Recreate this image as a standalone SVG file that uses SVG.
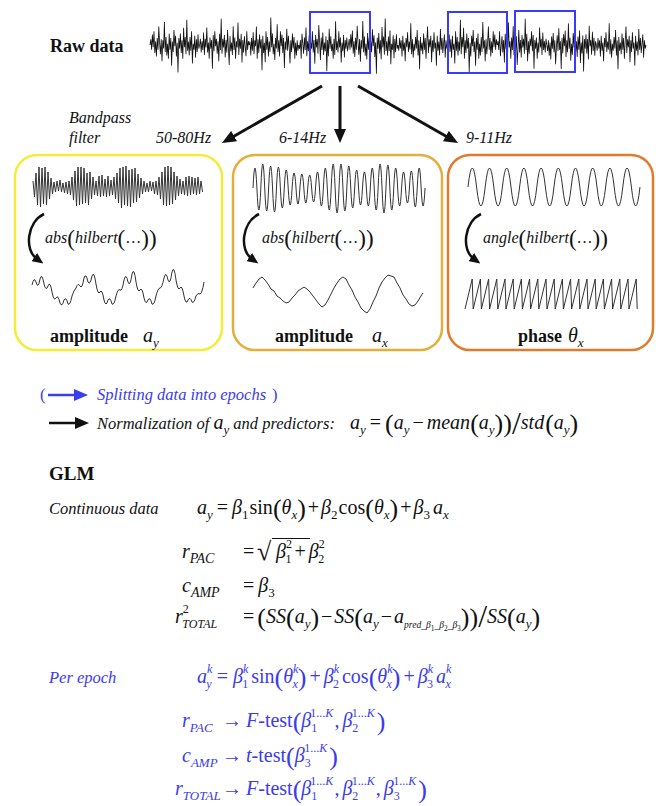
<svg xmlns="http://www.w3.org/2000/svg" xmlns:xlink="http://www.w3.org/1999/xlink" width="656" height="806" viewBox="0 0 656 806">
<style>
.t{font-family:"Liberation Serif","DejaVu Serif Condensed","DejaVu Serif",serif;font-stretch:condensed;fill:#111}
.b{font-weight:bold}
.i{font-style:italic}
.m{font-family:"Liberation Serif","DejaVu Serif Condensed","DejaVu Serif",serif;font-stretch:condensed;font-size:20px;fill:#111}
.f{font-size:16px}
.blue{fill:#3b3bef}
.s{font-size:13px;font-style:italic}
.s14{font-size:14px;font-style:italic}
.k{font-size:12px;font-style:italic}
.n{font-size:13px;font-style:normal}
.nk{font-size:12px;font-style:normal}
.ss{font-size:9.5px;font-style:italic}
.sd{font-size:7.5px;font-style:normal}
.P{font-size:26px;font-style:normal}
.Pf{font-size:23px;font-style:normal}
.rad{font-size:26px}
.sl{font-size:32px}
.sig{fill:none;stroke:#333;stroke-width:1;stroke-linejoin:round}
.raw{fill:none;stroke:#111;stroke-width:1}
.box{fill:none;stroke-width:2.5}
.arr{fill:none;stroke:#111;stroke-width:3}
.carr{fill:none;stroke:#111;stroke-width:2.5}
</style>
<defs>
<marker id="ah" viewBox="0 0 10 10" refX="2" refY="5" markerWidth="14" markerHeight="12" markerUnits="userSpaceOnUse" orient="auto" preserveAspectRatio="none"><path d="M0,0L10,5L0,10z" fill="#111"/></marker>
<marker id="ahs" viewBox="0 0 10 10" refX="3" refY="5" markerWidth="11" markerHeight="10" markerUnits="userSpaceOnUse" orient="auto" preserveAspectRatio="none"><path d="M0,0L10,5L0,10z" fill="#111"/></marker>
<marker id="ahb" viewBox="0 0 10 10" refX="2" refY="5" markerWidth="14" markerHeight="12" markerUnits="userSpaceOnUse" orient="auto" preserveAspectRatio="none"><path d="M0,0L10,5L0,10z" fill="#3b3bef"/></marker>
<path id="segA" d="M0 0 1 -5 2 4 3 -9 4 2 5 -12 6 7 7 -3 8 10 9 -6 10 4 11 -16 12 -2 13 8 14 -5 15 14 16 -4 17 3 18 -20 19 6 20 -7 21 9 22 -1 23 12 24 -10 25 4 26 -6 27 18 28 -3 29 6 30 -13 31 1 32 -8 33 10 34 -2 35 24 36 -6 37 3 38 -10 39 7 40 -4 41 12 42 -15 43 2 44 -7 45 8 46 -22 47 5 48 -3 49 9 50 -7 51 5 52 -12 53 16 54 -1 55 4 56 -8 57 11 58 -5 59 6 60 -9 61 3 62 0"/>
<path id="segB" d="M0 0 1 5 2 -6 3 3 4 -4 5 10 6 -8 7 5 8 -2 9 14 10 -6 11 2 12 -11 13 6 14 -3 15 4 16 -19 17 8 18 -5 19 11 20 -1 21 5 22 -7 23 3 24 -13 25 9 26 -4 27 21 28 -7 29 5 30 -2 31 8 32 -10 33 4 34 -6 35 12 36 -3 37 -16 38 7 39 -5 40 2 41 -8 42 15 43 -4 44 6 45 -11 46 3 47 -2 48 18 49 -8 50 5 51 -3 52 9 53 -14 54 4 55 -6 56 7 57 -1 58 -9 59 11 60 -4 61 3 62 0"/>
</defs>
<rect width="656" height="806" fill="#fff"/>

<g id="raw-data">
<text class="t b" x="50" y="52" font-size="18">Raw data</text>
<g class="raw">
<use xlink:href="#segA" href="#segA" transform="translate(150,45) scale(0.8,1.15)"/>
<use xlink:href="#segB" href="#segB" transform="translate(199.6,45) scale(0.8,-1.25)"/>
<use xlink:href="#segA" href="#segA" transform="translate(298.8,45) scale(-0.8,-1.15)"/>
<use xlink:href="#segB" href="#segB" transform="translate(348.4,45) scale(-0.8,1.25)"/>
<use xlink:href="#segA" href="#segA" transform="translate(348.4,45) scale(0.8,1.2)"/>
<use xlink:href="#segB" href="#segB" transform="translate(398,45) scale(0.8,1.15)"/>
<use xlink:href="#segA" href="#segA" transform="translate(497.2,45) scale(-0.8,1.15)"/>
<use xlink:href="#segB" href="#segB" transform="translate(546.8,45) scale(-0.8,-1.25)"/>
<use xlink:href="#segA" href="#segA" transform="translate(546.8,45) scale(0.8,-1.2)"/>
<use xlink:href="#segB" href="#segB" transform="translate(596.4,45) scale(0.8,1.15)"/>
</g>
<g fill="none" stroke="#3a3aff" stroke-width="2">
<rect x="310" y="12" width="60" height="61"/>
<rect x="448" y="12" width="59" height="61"/>
<rect x="515" y="11" width="60" height="61"/>
</g>
</g>

<g id="bandpass-labels">
<text class="t i" x="69" y="123" font-size="16">Bandpass</text>
<text class="t i" x="69" y="143" font-size="16">filter</text>
<text class="t i" x="156" y="143" font-size="16">50-80Hz</text>
<text class="t i" x="279" y="143" font-size="16">6-14Hz</text>
<text class="t i" x="466" y="143" font-size="16">9-11Hz</text>
</g>

<g id="panel-gamma">
<rect class="box" x="15" y="155" width="207" height="195" rx="22" stroke="#f3ec3a"/>
<polyline class="sig" points="33,181 34.5,197 36,173 37.5,205 39,167 40.5,207 42,168 43.5,204 45,167 46.5,205 48,172 49.5,199 51,178 52.5,194 54,182 55.5,192 57,181 58.5,191 60,180 61.5,192 63,183 64.5,193 66,182 67.5,194 69,181 70.5,195 72,177 73.5,200 75,171 76.5,206 78,167 79.5,205 81,167 82.5,204 84,168 85.5,203 87,173 88.5,205 90,172 91.5,199 93,177 94.5,195 96,181 97.5,196 99,176 100.5,197 102,175 103.5,196 105,179 106.5,197 108,176 109.5,196 111,180 112.5,195 114,177 115.5,199 117,173 118.5,203 120,168 121.5,208 123,167 124.5,205 126,166 127.5,206 129,170 130.5,207 132,169 133.5,203 135,168 136.5,202 138,174 139.5,198 141,178 142.5,194 144,181 145.5,192 147,183 148.5,192 150,181 151.5,191 153,182 154.5,194 156,181 157.5,195 159,177 160.5,199 162,172 163.5,205 165,167 166.5,206 168,166 169.5,205 171,167 172.5,204 174,172 175.5,200 177,176 178.5,196 180,179 181.5,194 183,181 184.5,195 186,177 187.5,196 189,176 190.5,195 192,177 193.5,194 195,178 196.5,195 198,177 199.5,194 201,181 202.5,192"/>
<text class="m f" x="45" y="243"><tspan class="i">abs</tspan><tspan class="Pf" dy="3">(</tspan><tspan class="i" dy="-3">hilbert</tspan><tspan class="Pf" dy="3">(</tspan><tspan dy="-3">…</tspan><tspan class="Pf" dy="3">))</tspan></text>
<path class="sig" d="M32,285 Q34,276 36,282 Q38,290 40,279 Q42,272 44,284 Q46,292 48,286 Q50,280 52,292 Q54,302 56,298 Q58,294 60,303 Q62,308 64,300 Q66,296 68,304 Q70,306 72,296 Q74,290 76,288 Q78,282 80,286 Q82,290 84,278 Q86,272 88,282 Q90,286 92,276 Q94,270 96,284 Q98,296 100,292 Q102,288 104,300 Q106,308 108,300 Q110,296 112,304 Q114,306 116,296 Q118,288 120,290 Q122,292 124,280 Q126,272 128,282 Q130,288 132,274 Q134,266 136,282 Q138,294 140,290 Q142,286 144,298 Q146,306 148,300 Q150,296 152,304 Q154,306 156,296 Q158,288 160,288 Q162,288 164,278 Q166,270 168,280 Q170,286 172,272 Q174,264 176,280 Q178,292 180,288 Q182,284 184,296 Q186,306 188,300 Q190,296 192,302 Q194,304 196,296 Q198,292 200,294 Q202,294 204,282"/>
<text class="t b" x="50" y="342" font-size="18">amplitude</text>
<text class="m" x="143" y="342"><tspan class="i">a</tspan><tspan class="s" dy="5">y</tspan></text>
</g>

<g id="panel-amplitude">
<rect class="box" x="233" y="155" width="209" height="195" rx="22" stroke="#e5ae3c"/>
<path class="sig" d="M253,188 q1.95,-40 3.91,0 q1.95,44 3.91,0 q1.95,-48 3.91,0 q1.95,46 3.91,0 q1.95,-44 3.91,0 q1.95,48 3.91,0 q1.95,-42 3.91,0 q1.95,40 3.91,0 q1.95,-36 3.91,0 q1.95,34 3.91,0 q1.95,-30 3.91,0 q1.95,32 3.91,0 q1.95,-28 3.91,0 q1.95,30 3.91,0 q1.95,-26 3.91,0 q1.95,28 3.91,0 q1.95,-32 3.91,0 q1.95,36 3.91,0 q1.95,-40 3.91,0 q1.95,44 3.91,0 q1.95,-48 3.91,0 q1.95,50 3.91,0 q1.95,-48 3.91,0 q1.95,46 3.91,0 q1.95,-44 3.91,0 q1.95,40 3.91,0 q1.95,-36 3.91,0 q1.95,34 3.91,0 q1.95,-32 3.91,0 q1.95,36 3.91,0 q1.95,-40 3.91,0 q1.95,44 3.91,0 q1.95,-48 3.91,0 q1.95,50 3.91,0 q1.95,-46 3.91,0 q1.95,44 3.91,0 q1.95,-40 3.91,0 q1.95,36 3.91,0 q1.95,-32 3.91,0 q1.95,30 3.91,0 q1.95,-34 3.91,0 q1.95,38 3.91,0 q1.95,-40 3.91,0 q1.95,36 3.91,0"/>
<text class="m f" x="262" y="243"><tspan class="i">abs</tspan><tspan class="Pf" dy="3">(</tspan><tspan class="i" dy="-3">hilbert</tspan><tspan class="Pf" dy="3">(</tspan><tspan dy="-3">…</tspan><tspan class="Pf" dy="3">))</tspan></text>
<polyline class="sig" points="253,288 256,283 259,279 262,277 265,280 268,284 271,289 274,291 277,296 280,298 283,301 286,303 289,302 292,298 295,295 298,291 301,289 304,287 307,289 310,292 313,296 316,300 319,304 322,307 325,305 328,300 331,294 334,288 337,283 340,279 343,277 346,279 349,285 352,290 355,297 358,302 361,308 364,311 367,313 370,309 373,302 376,296 379,288 382,282 385,278 388,275 391,276 394,277 397,283 400,288 403,295 406,299 409,304 412,306 415,305 418,301 421,296 423,293"/>
<text class="t b" x="275" y="342" font-size="18">amplitude</text>
<text class="m" x="372" y="342"><tspan class="i">a</tspan><tspan class="s" dy="5">x</tspan></text>
</g>

<g id="panel-phase">
<rect class="box" x="448" y="155" width="205" height="195" rx="22" stroke="#e07b2e"/>
<path class="sig" d="M468,187 q4.3,-38 8.6,0 t8.6,0 t8.6,0 t8.6,0 t8.6,0 t8.6,0 t8.6,0 t8.6,0 t8.6,0 t8.6,0 t8.6,0 t8.6,0 t8.6,0 t8.6,0 t8.6,0 t8.6,0 t8.6,0 t8.6,0 t8.6,0 t8.6,0"/>
<text class="m f" x="483" y="243"><tspan class="i">angle</tspan><tspan class="Pf" dy="3">(</tspan><tspan class="i" dy="-3">hilbert</tspan><tspan class="Pf" dy="3">(</tspan><tspan dy="-3">…</tspan><tspan class="Pf" dy="3">))</tspan></text>
<path class="sig" d="M465,309 l7.2,-30 l1,30 l7.2,-30 l1,30 l7.2,-30 l1,30 l7.2,-30 l1,30 l7.2,-30 l1,30 l7.2,-30 l1,30 l7.2,-30 l1,30 l7.2,-30 l1,30 l7.2,-30 l1,30 l7.2,-30 l1,30 l7.2,-30 l1,30 l7.2,-30 l1,30 l7.2,-30 l1,30 l7.2,-30 l1,30 l7.2,-30 l1,30 l7.2,-30 l1,30 l7.2,-30 l1,30 l7.2,-30 l1,30 l7.2,-30 l1,30 l7.2,-30 l1,30 l7.2,-30 l1,30"/>
<text class="t b" x="518" y="342" font-size="18">phase</text>
<text class="m" x="568" y="342"><tspan class="i">θ</tspan><tspan class="s" dy="5">x</tspan></text>
</g>

<g id="connectors">
<line class="arr" x1="322" y1="86" x2="231.7" y2="137.5" marker-end="url(#ah)"/>
<line class="arr" x1="340" y1="86" x2="340" y2="131.8" marker-end="url(#ah)"/>
<line class="arr" x1="358" y1="86" x2="448.3" y2="137.5" marker-end="url(#ah)"/>
<path class="carr" d="M44,214 C27,222 24,250 37,259" marker-end="url(#ahs)"/>
<path class="carr" d="M259,214 C242,222 239,250 252,259" marker-end="url(#ahs)"/>
<path class="carr" d="M481,214 C464,222 461,250 474,259" marker-end="url(#ahs)"/>
</g>

<g id="epochs-note">
<text class="t blue" x="40" y="400" font-size="16.5">(</text>
<line x1="48" y1="395" x2="76.8" y2="395" stroke="#3b3bef" stroke-width="2.5" marker-end="url(#ahb)"/>
<text class="t i blue" x="97" y="400" font-size="16.5">Splitting data into epochs</text>
<text class="t blue" x="272" y="400" font-size="16.5">)</text>
</g>

<g id="normalization">
<line x1="49" y1="423" x2="77.8" y2="423" stroke="#111" stroke-width="2.5" marker-end="url(#ah)"/>
<text class="t i" x="97" y="429" font-size="16.5">Normalization of <tspan font-size="20">a</tspan><tspan class="s" dy="5">y</tspan><tspan dy="-5"> and predictors:</tspan></text>
<text class="m" x="350" y="429"><tspan class="i">a</tspan><tspan class="s" dy="5">y</tspan><tspan dx="4" dy="-5">=</tspan><tspan class="P" dx="4" dy="3">(</tspan><tspan class="i" dy="-3">a</tspan><tspan class="s" dy="5">y</tspan><tspan dx="3" dy="-5">−</tspan><tspan class="i" dx="3">mean</tspan><tspan class="P" dy="3">(</tspan><tspan class="i" dy="-3">a</tspan><tspan class="s" dy="5">y</tspan><tspan class="P" dy="-2">))</tspan><tspan class="sl" dy="2">/</tspan><tspan class="i" dy="-5">std</tspan><tspan class="P" dx="1" dy="3">(</tspan><tspan class="i" dy="-3">a</tspan><tspan class="s" dy="5">y</tspan><tspan class="P" dy="-2">)</tspan></text>
</g>

<g id="glm-continuous">
<text class="t b" x="49" y="480" font-size="19">GLM</text>
<text class="t i" x="49" y="514" font-size="16.5">Continuous data</text>
<text class="m" x="197" y="514"><tspan class="i">a</tspan><tspan class="s" dy="5">y</tspan><tspan dx="4" dy="-5">=</tspan><tspan class="i" dx="4">β</tspan><tspan class="n" dy="5">1</tspan><tspan dx="1" dy="-5">sin</tspan><tspan class="P" dy="3">(</tspan><tspan class="i" dy="-3">θ</tspan><tspan class="s" dy="5">x</tspan><tspan class="P" dy="-2">)</tspan><tspan dx="2" dy="-3">+</tspan><tspan class="i" dx="2">β</tspan><tspan class="n" dy="5">2</tspan><tspan dx="1" dy="-5">cos</tspan><tspan class="P" dy="3">(</tspan><tspan class="i" dy="-3">θ</tspan><tspan class="s" dy="5">x</tspan><tspan class="P" dy="-2">)</tspan><tspan dx="2" dy="-3">+</tspan><tspan class="i" dx="2">β</tspan><tspan class="n" dy="5">3</tspan><tspan class="i" dx="3" dy="-5">a</tspan><tspan class="s" dy="5">x</tspan></text>
<text class="m" x="182" y="558"><tspan class="i">r</tspan><tspan class="s14" dy="5">PAC</tspan><tspan x="243" dy="-5">=</tspan></text>
<text class="m rad" x="257" y="560">√</text>
<line x1="272" y1="538.5" x2="310" y2="538.5" stroke="#111" stroke-width="1.2"/>
<text class="m" x="276" y="558"><tspan class="i">β</tspan><tspan class="nk" dy="-10">2</tspan><tspan class="nk" dx="-6.5" dy="15">1</tspan><tspan dx="3" dy="-5">+</tspan><tspan class="i" dx="3">β</tspan><tspan class="nk" dy="-10">2</tspan><tspan class="nk" dx="-6.5" dy="15">2</tspan></text>
<text class="m" x="182" y="592"><tspan class="i">c</tspan><tspan class="s14" dy="5">AMP</tspan><tspan x="243" dy="-5">=</tspan><tspan class="i" dx="4">β</tspan><tspan class="n" dy="5">3</tspan></text>
<text class="m" x="175" y="623"><tspan class="i">r</tspan><tspan class="nk" dy="-10">2</tspan><tspan class="k" dx="-6.5" dy="15">TOTAL</tspan><tspan x="243" dy="-5">=</tspan><tspan class="P" dx="3" dy="3">(</tspan><tspan class="i" dy="-3">SS</tspan><tspan class="P" dy="3">(</tspan><tspan class="i" dy="-3">a</tspan><tspan class="s" dy="5">y</tspan><tspan class="P" dy="-2">)</tspan><tspan dx="2" dy="-3">−</tspan><tspan class="i" dx="2">SS</tspan><tspan class="P" dy="3">(</tspan><tspan class="i" dy="-3">a</tspan><tspan class="s" dy="5">y</tspan><tspan dx="2" dy="-5">−</tspan><tspan class="i" dx="2">a</tspan><tspan class="ss" dy="5">pred_β</tspan><tspan class="sd" dy="3">1</tspan><tspan class="ss" dy="-3">_β</tspan><tspan class="sd" dy="3">2</tspan><tspan class="ss" dy="-3">_β</tspan><tspan class="sd" dy="3">3</tspan><tspan class="P" dy="-5">))</tspan><tspan class="sl" dy="1">/</tspan><tspan class="i" dy="-4">SS</tspan><tspan class="P" dy="3">(</tspan><tspan class="i" dy="-3">a</tspan><tspan class="s" dy="5">y</tspan><tspan class="P" dy="-2">)</tspan></text>
</g>

<g id="glm-per-epoch">
<text class="t i blue" x="49" y="683" font-size="16.5">Per epoch</text>
<text class="m blue" x="197" y="683"><tspan class="i">a</tspan><tspan class="k" dy="-10">k</tspan><tspan class="k" dx="-6" dy="15">y</tspan><tspan dx="5" dy="-5">=</tspan><tspan class="i" dx="5">β</tspan><tspan class="k" dy="-10">k</tspan><tspan class="nk" dx="-6" dy="15">1</tspan><tspan dx="3" dy="-5">sin</tspan><tspan class="P" dy="3">(</tspan><tspan class="i" dy="-3">θ</tspan><tspan class="k" dy="-10">k</tspan><tspan class="k" dx="-6" dy="15">x</tspan><tspan class="P" dy="-2">)</tspan><tspan dx="3" dy="-3">+</tspan><tspan class="i" dx="3">β</tspan><tspan class="k" dy="-10">k</tspan><tspan class="nk" dx="-6" dy="15">2</tspan><tspan dx="3" dy="-5">cos</tspan><tspan class="P" dy="3">(</tspan><tspan class="i" dy="-3">θ</tspan><tspan class="k" dy="-10">k</tspan><tspan class="k" dx="-6" dy="15">x</tspan><tspan class="P" dy="-2">)</tspan><tspan dx="3" dy="-3">+</tspan><tspan class="i" dx="3">β</tspan><tspan class="k" dy="-10">k</tspan><tspan class="nk" dx="-6" dy="15">3</tspan><tspan class="i" dx="3" dy="-5">a</tspan><tspan class="k" dy="-10">k</tspan><tspan class="k" dx="-6" dy="15">x</tspan></text>
<text class="m blue" x="182" y="727"><tspan class="i">r</tspan><tspan class="s" dy="5">PAC</tspan><tspan x="222" dy="-5">→</tspan><tspan class="i" dx="4">F</tspan><tspan>-test</tspan><tspan class="P" dy="3">(</tspan><tspan class="i" dy="-3">β</tspan><tspan class="nk" dy="5">1</tspan><tspan class="nk" dx="-6.5" dy="-15">1...<tspan class="i">K</tspan></tspan><tspan dx="1" dy="10">,</tspan><tspan class="i" dx="3">β</tspan><tspan class="nk" dy="5">2</tspan><tspan class="nk" dx="-6.5" dy="-15">1...<tspan class="i">K</tspan></tspan><tspan class="P" dx="2" dy="13">)</tspan></text>
<text class="m blue" x="182" y="762"><tspan class="i">c</tspan><tspan class="s" dy="5">AMP</tspan><tspan x="222" dy="-5">→</tspan><tspan class="i" dx="4">t</tspan><tspan>-test</tspan><tspan class="P" dy="3">(</tspan><tspan class="i" dy="-3">β</tspan><tspan class="nk" dy="5">3</tspan><tspan class="nk" dx="-6.5" dy="-15">1...<tspan class="i">K</tspan></tspan><tspan class="P" dx="2" dy="13">)</tspan></text>
<text class="m blue" x="175" y="795"><tspan class="i">r</tspan><tspan class="s" dy="5">TOTAL</tspan><tspan x="222" dy="-5">→</tspan><tspan class="i" dx="4">F</tspan><tspan>-test</tspan><tspan class="P" dy="3">(</tspan><tspan class="i" dy="-3">β</tspan><tspan class="nk" dy="5">1</tspan><tspan class="nk" dx="-6.5" dy="-15">1...<tspan class="i">K</tspan></tspan><tspan dx="1" dy="10">,</tspan><tspan class="i" dx="3">β</tspan><tspan class="nk" dy="5">2</tspan><tspan class="nk" dx="-6.5" dy="-15">1...<tspan class="i">K</tspan></tspan><tspan dx="1" dy="10">,</tspan><tspan class="i" dx="3">β</tspan><tspan class="nk" dy="5">3</tspan><tspan class="nk" dx="-6.5" dy="-15">1...<tspan class="i">K</tspan></tspan><tspan class="P" dx="2" dy="13">)</tspan></text>
</g>
</svg>
